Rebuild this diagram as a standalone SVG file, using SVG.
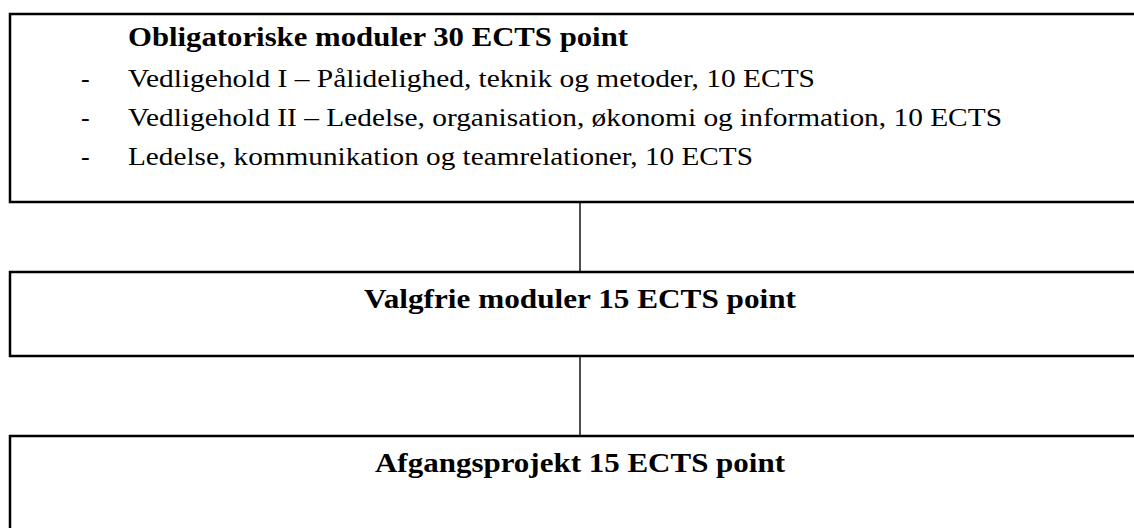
<svg xmlns="http://www.w3.org/2000/svg" width="1134" height="528" viewBox="0 0 1134 528">
<style>
.box{fill:#fff;stroke:#000;stroke-width:2.5}
.conn{stroke:#222;stroke-width:1.6;fill:none}
.t{font-family:"Liberation Serif","Times New Roman",serif;font-size:26px;fill:#000}
.b{font-weight:bold;font-size:27px}
</style>
<rect width="1134" height="528" fill="#fff"/>
<g id="connectors">
<line class="conn" x1="580" y1="202" x2="580" y2="272"/>
<line class="conn" x1="580" y1="356" x2="580" y2="436"/>
</g>
<g id="node-obligatoriske">
<rect class="box" x="10" y="14" width="1140" height="188"/>
<text class="t b" x="128" y="46" textLength="500" lengthAdjust="spacingAndGlyphs">Obligatoriske moduler 30 ECTS point</text>
<text class="t" x="81" y="87">-</text>
<text class="t" x="128" y="87" textLength="687" lengthAdjust="spacingAndGlyphs">Vedligehold I – Pålidelighed, teknik og metoder, 10 ECTS</text>
<text class="t" x="81" y="126">-</text>
<text class="t" x="128" y="126" textLength="874" lengthAdjust="spacingAndGlyphs">Vedligehold II – Ledelse, organisation, økonomi og information, 10 ECTS</text>
<text class="t" x="81" y="165">-</text>
<text class="t" x="128" y="165" textLength="625" lengthAdjust="spacingAndGlyphs">Ledelse, kommunikation og teamrelationer, 10 ECTS</text>
</g>
<g id="node-valgfrie">
<rect class="box" x="10" y="272" width="1140" height="84"/>
<text class="t b" x="364" y="308" textLength="432" lengthAdjust="spacingAndGlyphs">Valgfrie moduler 15 ECTS point</text>
</g>
<g id="node-afgangsprojekt">
<rect class="box" x="10" y="436" width="1140" height="120"/>
<text class="t b" x="375" y="472" textLength="410" lengthAdjust="spacingAndGlyphs">Afgangsprojekt 15 ECTS point</text>
</g>
</svg>
